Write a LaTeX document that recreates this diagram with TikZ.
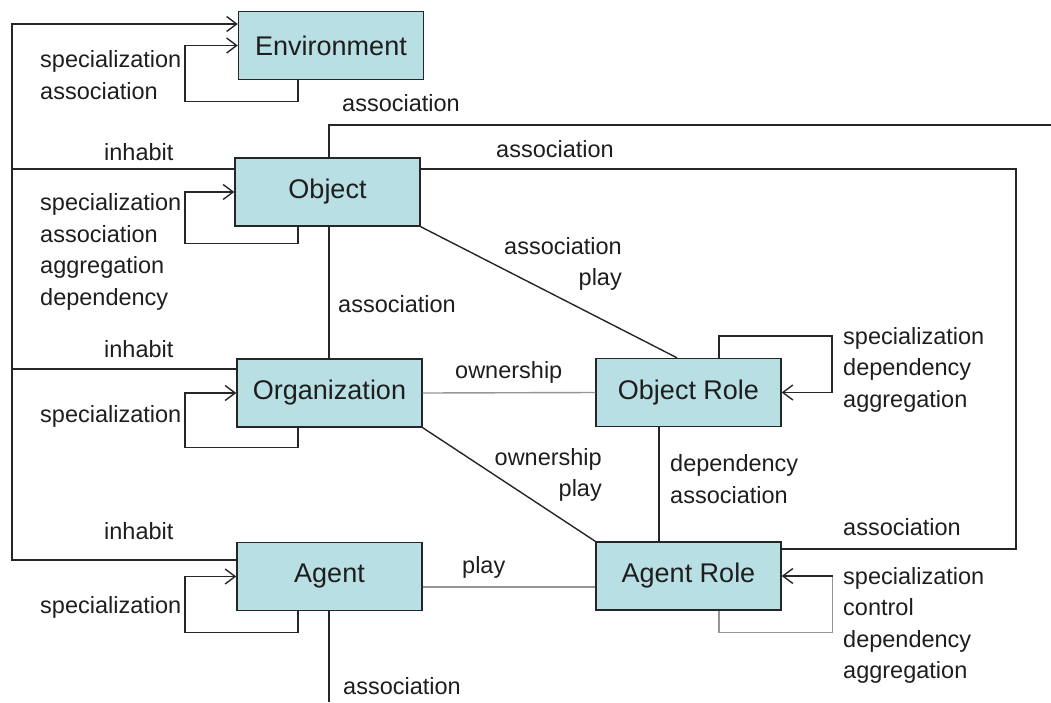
\documentclass[tikz,border=0pt]{standalone}
\usepackage{fontspec}
\setmainfont{Liberation Sans}
\usetikzlibrary{arrows.meta}
\definecolor{boxfill}{RGB}{184,223,227}
\definecolor{txt}{RGB}{30,30,30}
\definecolor{greyline}{RGB}{150,150,150}
\begin{document}
\begin{tikzpicture}[x=1pt,y=-1pt,
  entity/.style={draw=black!85,line width=1.4pt,fill=boxfill,minimum width=185pt,minimum height=68pt,
    inner sep=0pt,font=\fontsize{27}{32}\selectfont,text=txt},
  lbl/.style={inner sep=0pt,anchor=west,text=txt,font=\fontsize{23.5}{31.5}\selectfont},
  link/.style={line width=1.4pt,draw=black!85},
  glink/.style={line width=1.4pt,draw=greyline},
  arr/.style={link,-{Straight Barb[length=10pt,width=15pt,line width=1.4pt]}}]
\useasboundingbox (0,0) rectangle (1051,702);

% entities
\node[entity] (env)    at (331,45.5)   {Environment};
\node[entity] (obj)    at (327.5,192)  {Object};
\node[entity] (org)    at (329.5,393)  {Organization};
\node[entity] (agent)  at (329.5,576.5){Agent};
\node[entity] (orole)  at (688.5,392.5){Object Role};
\node[entity] (arole)  at (688.5,576)  {Agent Role};

% free ends and bend points
\coordinate (bus)     at (12,24);
\coordinate (rc)      at (1016,169);
\coordinate (topEnd)  at (1051,125);
\coordinate (botEnd)  at (329,702);

% inhabit bus on the left
\draw[arr] ([yshift=16.5pt]agent.west) -| (bus) -- (bus -| env.west);
\draw[link] ([yshift=23pt]obj.west) -- ++(-223,0);
\draw[link] ([yshift=24pt]org.west) -- ++(-225,0);

% self loops
\draw[arr] ([xshift=-33pt]env.south) -- ++(0,21) -- ++(-113,0) |- (env.west);
\draw[arr] ([xshift=-29.5pt]obj.south) -- ++(0,17) -- ++(-113,0) |- (obj.west);
\draw[arr] ([xshift=-31.5pt]org.south) -- ++(0,20) -- ++(-113,0) |- (org.west);
\draw[arr] ([xshift=-31.5pt]agent.south) -- ++(0,21) -- ++(-113,0) |- (agent.west);
\draw[arr] ([xshift=30.5pt]orole.north) -- ++(0,-22) -- ++(113,0) |- (orole.east);
\draw[glink] ([xshift=30.5pt]arole.south) -- ++(0,22) -| ([xshift=51pt]arole.east);
\draw[arr] ([xshift=51pt]arole.east) -- (arole.east);

% associations
\draw[link] ([xshift=1.5pt]obj.north) |- (topEnd);
\draw[link] ([yshift=23pt]obj.east) -- (rc) |- ([yshift=27pt]arole.east);
\draw[link] ([xshift=1.5pt]obj.south) -- ([xshift=-0.5pt]org.north);
\draw[link] (obj.south east) -- ([xshift=-11.5pt]orole.north);
\draw[glink] (org.east) -- (orole.west);
\draw[link] (org.south east) -- (arole.north west);
\draw[link] ([xshift=-29.5pt]orole.south) -- ([xshift=-29.5pt]arole.north);
\draw[glink] ([yshift=-10.5pt]agent.east) -- ([yshift=-11pt]arole.west);
\draw[link] ([xshift=-0.5pt]agent.south) -- (botEnd);

% labels
\node[lbl,align=left] (l1) at (40,75) {specialization\\association};
\node[lbl] (l2) at (342,103) {association};
\node[lbl] (l3) at (104,152) {inhabit};
\node[lbl] (l4) at (496,149) {association};
\node[lbl,align=left] (l5) at (40,252) {specialization\\association\\aggregation\\dependency};
\node[lbl,align=right,anchor=east] (l6) at (622,264) {association\\play};
\node[lbl] (l7) at (338,304) {association};
\node[lbl] (l8) at (104,349) {inhabit};
\node[lbl] (l9) at (455,372) {ownership};
\node[lbl,align=left] (l10) at (843,369.5) {specialization\\dependency\\aggregation};
\node[lbl] (l11) at (40,416) {specialization};
\node[lbl,align=right,anchor=east] (l12) at (602,475) {ownership\\play};
\node[lbl,align=left] (l13) at (670,479) {dependency\\association};
\node[lbl] (l14) at (104,531) {inhabit};
\node[lbl] (l15) at (843,527) {association};
\node[lbl] (l16) at (462,567) {play};
\node[lbl] (l17) at (40,607) {specialization};
\node[lbl,align=left] (l18) at (843,625.5) {specialization\\control\\dependency\\aggregation};
\node[lbl] (l19) at (343,686) {association};
\end{tikzpicture}
\end{document}
